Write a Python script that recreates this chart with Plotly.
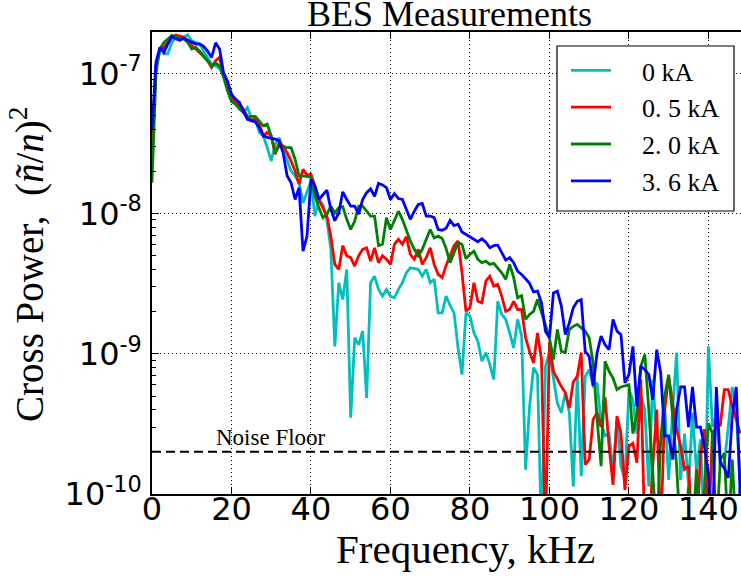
import plotly.graph_objects as go

# ---------------- data ----------------
freq_khz = list(range(0, 149))
value_unit = 1e-9  # series below are in units of 1e-9

cyan_0kA = [
    30, 113, 153, 138, 138, 166, 181, 171, 181, 188,
    171, 166, 162, 144, 130, 116, 113, 108, 99, 84,
    71, 63, 58.5, 52.6, 57, 48.5, 47.2, 37.9, 35.8, 29.5,
    23.7, 31.3, 34.8, 28.8, 23.7, 20.1, 18.6, 16.6, 11.9, 14.5,
    17.1, 9.6, 12.6, 11.6, 9.1, 5.56, 1.13, 3.21, 2.44, 4.0,
    0.35, 1.3, 1.16, 1.45, 0.485, 3.21, 3.58, 2.88, 2.58, 2.88,
    2.58, 2.51, 2.88, 3.21, 3.78, 4.1, 4.04, 4.0, 3.58, 4.0,
    3.21, 3.4, 1.96, 1.96, 2.58, 2.21, 1.96, 1.1, 0.71, 1.96,
    1.86, 1.41, 1.23, 0.885, 1.02, 0.84, 0.655, 2.37, 1.91, 1.76,
    1.41, 1.1, 1.76, 1.34, 0.149, 0.42, 0.795, 0.71, 0.05, 0.815,
    1.02, 0.69, 0.445, 0.38, 0.53, 0.38, 0.113, 0.69, 0.134, 0.69,
    0.77, 0.59, 0.62, 0.32, 0.26, 0.27, 0.145, 0.34, 0.158, 0.126,
    0.556, 0.47, 0.27, 0.51, 0.40, 0.113, 0.655, 0.245, 0.22, 0.42,
    0.126, 0.40, 1.02, 0.126, 0.27, 0.113, 0.38, 0.145, 0.245, 0.05,
    1.13, 0.30, 0.37, 0.166, 0.166, 0.30, 0.58, 0.40, 0.113,
]

red_05kA = [
    26.5, 113, 149, 153, 166, 181, 188, 184, 181, 171,
    158, 149, 141, 132, 123, 110, 123, 130, 96, 79,
    67, 63, 58.5, 55.6, 49.3, 45.8, 47.2, 43.4, 35.8, 37.9,
    35.8, 26.5, 32, 30.3, 27.2, 23.7, 20.1, 16.2, 20.7, 18.8,
    19.1, 15.7, 12.6, 11, 9.6, 6.9, 4.34, 4.0, 5.9, 5.0,
    4.85, 4.22, 5.0, 5.56, 5.7, 4.58, 5.7, 4.46, 5.0, 4.72,
    4.34, 6.04, 6.55, 6.04, 6.85, 5.12, 4.72, 5.56, 4.34, 4.85,
    5.7, 4.34, 3.68, 3.49, 4.27, 5.0, 5.9, 6.38, 3.78, 2.01,
    2.13, 3.21, 2.37, 2.31, 3.3, 3.58, 3.04, 3.13, 2.58, 2.01,
    2.07, 2.37, 2.07, 2.07, 1.3, 1.04, 0.86, 1.41, 0.91, 0.05,
    1.22, 0.75, 0.655, 0.585, 0.53, 0.41, 0.63, 0.69, 1.02, 0.162,
    0.176, 0.34, 0.38, 0.30, 0.49, 0.22, 0.116, 0.36, 0.27, 0.107,
    0.22, 0.23, 0.167, 0.655, 0.05, 0.05, 0.158, 0.40, 0.05, 0.40,
    0.69, 0.45, 0.29, 0.22, 0.15, 0.158, 0.05, 0.05, 0.187, 0.29,
    0.05, 0.27, 0.30, 0.31, 0.556, 0.556, 0.42, 0.34, 0.27,
]

green_20kA = [
    16.6, 101, 149, 166, 176, 186, 184, 176, 176, 166,
    149, 153, 144, 133, 123, 113, 118, 113, 94, 75,
    63, 60.4, 55.6, 52.6, 48.5, 49.3, 49.3, 45.8, 42.2, 43.4,
    35.8, 27.2, 30.3, 30.3, 29.5, 29.5, 24.4, 18.6, 18.6, 18.4,
    18.1, 13.3, 11, 9.35, 9.9, 11.3, 10.1, 11, 11.2, 9.1,
    7.7, 8.85, 11.3, 11.3, 10.4, 9.6, 9.6, 5.9, 6.04, 9.35,
    7.7, 9.1, 10.4, 9.1, 7.5, 6.38, 5.56, 5.0, 5.56, 6.55,
    7.7, 6.7, 6.9, 6.65, 5.65, 4.46, 5.26, 6.2, 6.04, 4.77,
    5.12, 5.4, 4.72, 4.46, 4.58, 4.34, 4.42, 4.12, 3.78, 3.4,
    4.34, 3.49, 2.51, 2.6, 1.76, 1.91, 2.01, 2.44, 1.96, 1.57,
    1.3, 0.91, 1.49, 1.04, 1.02, 1.49, 1.57, 1.62, 1.53, 1.45,
    1.3, 0.86, 0.34, 0.158, 0.885, 0.75, 0.67, 0.556, 0.58, 0.59,
    0.60, 0.27, 0.38, 0.815, 0.99, 0.40, 0.15, 0.05, 0.245, 0.50,
    0.71, 0.36, 0.158, 0.05, 0.05, 0.113, 0.05, 0.15, 0.05, 0.113,
    0.32, 0.27, 0.05, 0.176, 0.195, 0.05, 0.176, 0.05, 0.113,
]

blue_36kA = [
    40, 120, 153, 141, 162, 183, 176, 173, 178, 173,
    168, 162, 162, 156, 144, 130, 165, 149, 101, 88,
    71, 65.5, 62, 54, 47, 46, 45, 41, 36, 35,
    34.5, 34, 33, 27, 18.6, 16.6, 12.6, 15.3, 5.4, 6.9,
    17.6, 15.7, 12.6, 13.7, 14.7, 10.7, 8.9, 10.1, 14.3, 12.6,
    11.3, 11.3, 9.9, 12.6, 14.1, 15.0, 13.3, 16.4, 16.0, 15.3,
    12.6, 13.9, 12.8, 12.6, 10.7, 9.1, 10.4, 11.6, 11.8, 9.6,
    9.6, 9.35, 7.7, 7.6, 7.85, 8.95, 8.2, 8.4, 7.4, 7.1,
    6.85, 6.5, 6.3, 6.6, 6.25, 5.7, 5.9, 5.95, 5.26, 4.66,
    4.85, 4.46, 3.88, 3.68, 3.43, 3.18, 2.76, 2.8, 2.31, 1.45,
    1.3, 2.72, 2.8, 2.19, 1.37, 1.66, 2.13, 2.37, 2.44, 1.04,
    0.96, 0.59, 1.02, 1.34, 1.16, 1.07, 1.76, 1.45, 1.37, 0.62,
    0.71, 1.13, 0.42, 0.815, 0.77, 0.71, 0.47, 1.07, 0.73, 0.26,
    0.26, 0.176, 0.40, 0.58, 0.58, 0.30, 0.58, 0.30, 0.30, 0.22,
    0.14, 0.05, 0.58, 0.166, 0.153, 0.13, 0.36, 0.58, 0.1,
]

series_values = [cyan_0kA, red_05kA, green_20kA, blue_36kA]
series_labels = ["0 kA", "0. 5 kA", "2. 0 kA", "3. 6 kA"]
series_colors = ["#00BFBF", "#FF0000", "#008000", "#0000FF"]

noise_floor = 2e-10
noise_label = "Noise Floor"
x_ticks = [0, 20, 40, 60, 80, 100, 120, 140]
y_ticks = [1e-10, 1e-9, 1e-8, 1e-7]
y_tick_text = ["10<sup>-10</sup>", "10<sup>-9</sup>", "10<sup>-8</sup>", "10<sup>-7</sup>"]
x_range = [0, 148.2]
title_text = "BES Measurements"
x_title = "Frequency, kHz"
y_title = "Cross Power,  (<i>ñ</i>/<i>n</i>)<sup>2</sup>"

# ---------------- figure ----------------
SERIF = "Liberation Serif, DejaVu Serif, serif"
SANS = "DejaVu Sans, sans-serif"
PAD = "\u00a0" * 4

fig = go.Figure()
for vals, lab, col in zip(series_values, series_labels, series_colors):
    fig.add_trace(go.Scatter(
        x=freq_khz, y=[v * value_unit for v in vals], mode="lines", name=PAD + lab,
        legendgroup=lab, line=dict(color=col, width=2.8),
    ))

fig.add_trace(go.Scatter(
    x=x_range, y=[noise_floor, noise_floor], mode="lines", showlegend=False,
    line=dict(color="black", width=2, dash="9px,5px"), hoverinfo="skip",
))

minor_vals = [m * 10.0 ** e for e in range(-10, -6) for m in range(2, 10)]

# legend frame (paper coords of the plot area)
fig.add_shape(
    type="rect", xref="paper", yref="paper",
    x0=(557 - 152) / 589, x1=(734 - 152) / 589,
    y0=(494 - 211) / 462, y1=(494 - 46) / 462,
    line=dict(color="black", width=1.2), fillcolor="white", layer="above",
)

fig.update_layout(
    width=741, height=576,
    margin=dict(l=152, r=0, t=32, b=82),
    paper_bgcolor="white", plot_bgcolor="white",
    showlegend=True,
    legend=dict(
        x=(566 - 152) / 589, y=(494 - 47) / 462, xanchor="left", yanchor="top",
        bgcolor="rgba(0,0,0,0)", borderwidth=0,
        font=dict(family=SERIF, size=26, color="black"),
        itemwidth=40, tracegroupgap=9, traceorder="normal",
    ),
)

fig.update_xaxes(
    range=x_range, tickmode="array", tickvals=x_ticks,
    showline=True, linecolor="black", linewidth=1.5, mirror="ticks",
    ticks="inside", ticklen=7, tickcolor="black", tickwidth=1,
    showgrid=True, gridcolor="black", gridwidth=1, griddash="1px,3px",
    zeroline=False, tickfont=dict(family=SANS, size=32, color="black"),
    ticklabelstandoff=-14,
)
fig.update_yaxes(
    type="log", range=[-10, -6.705], tickmode="array", tickvals=y_ticks,
    ticktext=y_tick_text,
    showline=True, linecolor="black", linewidth=1.5, mirror=False,
    ticks="inside", ticklen=7, tickcolor="black", tickwidth=1,
    minor=dict(tickmode="array", tickvals=minor_vals, ticks="inside", ticklen=4,
               tickcolor="black", showgrid=False),
    showgrid=True, gridcolor="black", gridwidth=1, griddash="1px,3px",
    zeroline=False, tickfont=dict(family=SANS, size=32, color="black"),
    ticklabelstandoff=2,
)

# title
fig.add_annotation(
    text=title_text, xref="paper", yref="paper", x=(449 - 152) / 589, y=1,
    xanchor="center", yanchor="bottom", yshift=-4, showarrow=False,
    font=dict(family=SERIF, size=36, color="black"),
)
fig.add_annotation(
    text=noise_label, x=30, y=-9.699, xref="x", yref="y",
    xanchor="center", yanchor="bottom", yshift=0, showarrow=False,
    font=dict(family=SERIF, size=23, color="black"),
)
fig.add_annotation(
    text=x_title, xref="paper", yref="paper", x=(465 - 152) / 589, y=(494 - 549) / 462,
    xanchor="center", yanchor="middle", showarrow=False,
    font=dict(family=SERIF, size=41, color="black"),
)
fig.add_annotation(
    text=y_title, xref="paper", yref="paper", x=(27 - 152) / 589, y=(494 - 265) / 462,
    xanchor="center", yanchor="middle", textangle=-90, showarrow=False,
    font=dict(family=SERIF, size=39, color="black"),
)

fig.write_html("out.html", config={"displayModeBar": False})
